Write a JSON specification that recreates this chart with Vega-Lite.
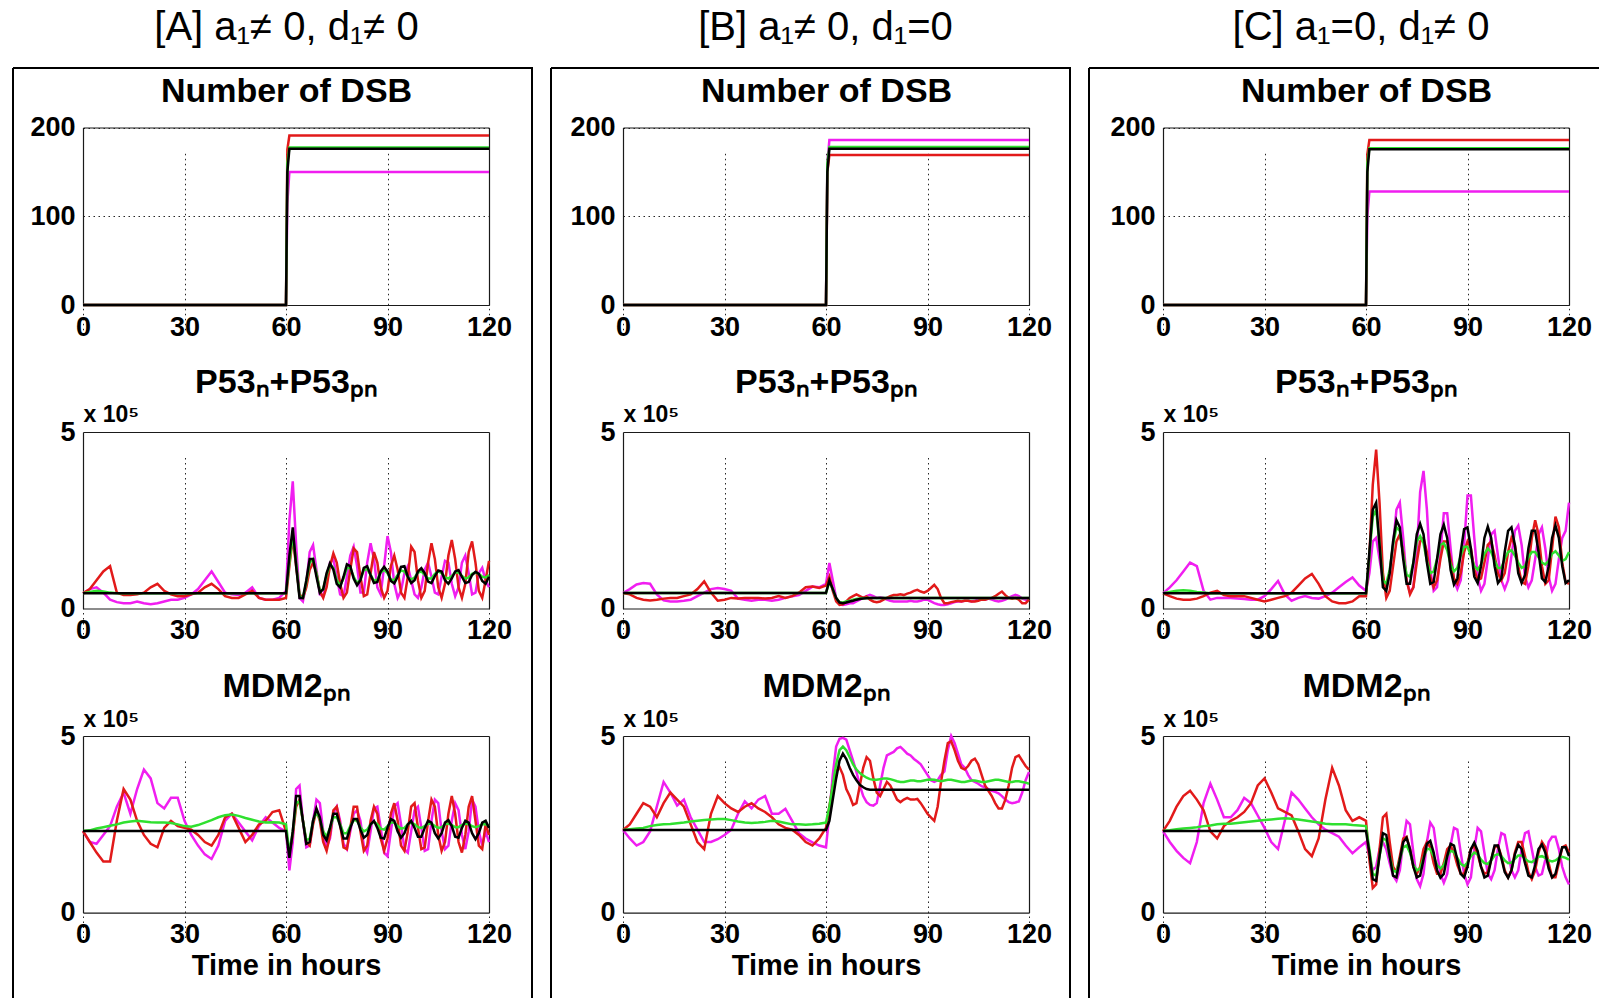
{
  "$schema": "https://vega.github.io/schema/vega-lite/v6.json",
  "background": "white",
  "padding": {"left": 12, "top": 7, "right": 0, "bottom": 0},
  "spacing": 17,
  "config": {
    "font": "Liberation Sans",
    "view": {"stroke": null},
    "axis": {
      "domainColor": "#1a1a1a", "domainWidth": 1.2,
      "labelFont": "Liberation Sans", "labelFontWeight": "bold", "labelFontSize": 27, "labelColor": "#000",
      "labelFlush": false, "ticks": false,
      "gridColor": "#000", "gridDash": [1.5, 3.5], "gridWidth": 1, "gridOpacity": 0.85,
      "titleFont": "Liberation Sans", "titleFontWeight": "bold", "titleColor": "#000"
    },
    "title": {"font": "Liberation Sans", "fontSize": 40, "fontWeight": "normal", "color": "#000", "offset": 20, "baseline": "alphabetic"},
    "line": {"strokeWidth": 2.5}
  },
  "datasets": {
    "A1": [
      {"t":0,"m":0,"r":0,"g":0,"k":0},{"t":60,"m":0,"r":0,"g":0,"k":0},
      {"t":60.4,"m":115,"r":175,"g":160,"k":150},{"t":61,"m":150,"r":191,"g":177.5,"k":176},
      {"t":120,"m":150,"r":191,"g":177.5,"k":176}
    ],
    "B1": [
      {"t":0,"m":0,"r":0,"g":0,"k":0},{"t":60,"m":0,"r":0,"g":0,"k":0},
      {"t":60.4,"m":160,"r":150,"g":160,"k":150},{"t":61,"m":186,"r":169,"g":178,"k":176},
      {"t":120,"m":186,"r":169,"g":178,"k":176}
    ],
    "C1": [
      {"t":0,"m":0,"r":0,"g":0,"k":0},{"t":60,"m":0,"r":0,"g":0,"k":0},
      {"t":60.4,"m":100,"r":170,"g":160,"k":150},{"t":61,"m":128,"r":186,"g":176.5,"k":175.5},
      {"t":120,"m":128,"r":186,"g":176.5,"k":175.5}
    ],
    "A2": [
      {"t":0,"m":0.43,"r":0.43,"g":0.43,"k":0.43},{"t":2,"m":0.55,"r":0.55,"g":0.47,"k":0.43},
      {"t":4,"m":0.6,"r":0.8,"g":0.5,"k":0.43},{"t":6,"m":0.45,"r":1.05,"g":0.48,"k":0.43},
      {"t":8,"m":0.25,"r":1.2,"g":0.45,"k":0.43},{"t":10,"m":0.18,"r":0.45,"g":0.43,"k":0.43},
      {"t":12,"m":0.15,"r":0.38,"g":0.43,"k":0.43},{"t":14,"m":0.15,"r":0.38,"g":0.43,"k":0.43},
      {"t":16,"m":0.2,"r":0.4,"g":0.43,"k":0.43},{"t":18,"m":0.15,"r":0.45,"g":0.43,"k":0.43},
      {"t":20,"m":0.12,"r":0.6,"g":0.43,"k":0.43},{"t":22,"m":0.15,"r":0.7,"g":0.43,"k":0.43},
      {"t":24,"m":0.2,"r":0.5,"g":0.43,"k":0.43},{"t":26,"m":0.25,"r":0.4,"g":0.43,"k":0.43},
      {"t":28,"m":0.25,"r":0.35,"g":0.43,"k":0.43},{"t":30,"m":0.3,"r":0.35,"g":0.43,"k":0.43},
      {"t":32,"m":0.4,"r":0.4,"g":0.43,"k":0.43},{"t":34,"m":0.55,"r":0.45,"g":0.43,"k":0.43},
      {"t":36,"m":0.8,"r":0.6,"g":0.43,"k":0.43},{"t":38,"m":1.05,"r":0.7,"g":0.43,"k":0.43},
      {"t":40,"m":0.75,"r":0.55,"g":0.43,"k":0.43},{"t":42,"m":0.45,"r":0.35,"g":0.43,"k":0.43},
      {"t":44,"m":0.4,"r":0.3,"g":0.43,"k":0.43},{"t":46,"m":0.38,"r":0.3,"g":0.43,"k":0.43},
      {"t":48,"m":0.45,"r":0.4,"g":0.43,"k":0.43},{"t":50,"m":0.6,"r":0.5,"g":0.43,"k":0.43},
      {"t":52,"m":0.3,"r":0.3,"g":0.43,"k":0.43},{"t":54,"m":0.25,"r":0.25,"g":0.43,"k":0.43},
      {"t":56,"m":0.25,"r":0.25,"g":0.43,"k":0.43},{"t":58,"m":0.3,"r":0.25,"g":0.43,"k":0.43},
      {"t":60,"m":0.5,"r":0.3,"g":0.43,"k":0.43},{"t":61,"m":2.5,"r":1.2,"g":1.3,"k":1.5},
      {"t":62,"m":3.6,"r":2.0,"g":2.1,"k":2.3},{"t":63,"m":1.8,"r":1.2,"g":1.3,"k":1.2},
      {"t":64,"m":0.3,"r":0.4,"g":0.35,"k":0.3},{"t":65,"m":0.2,"r":0.3,"g":0.3,"k":0.3},
      {"t":66,"m":0.7,"r":0.6,"g":0.75,"k":0.8},{"t":67,"m":1.6,"r":1.1,"g":1.3,"k":1.4},
      {"t":68,"m":1.8,"r":1.3,"g":1.4,"k":1.4},{"t":69,"m":1.1,"r":1.0,"g":1.0,"k":0.9},
      {"t":70,"m":0.4,"r":0.5,"g":0.5,"k":0.45},{"t":71,"m":0.35,"r":0.3,"g":0.55,"k":0.55},
      {"t":72,"m":0.8,"r":0.6,"g":0.95,"k":1.0},{"t":73,"m":1.3,"r":1.2,"g":1.25,"k":1.28},
      {"t":74,"m":1.4,"r":1.56,"g":1.15,"k":1.1},{"t":75,"m":0.9,"r":1.3,"g":0.8,"k":0.7},
      {"t":76,"m":0.4,"r":0.7,"g":0.65,"k":0.6},{"t":77,"m":0.35,"r":0.3,"g":0.85,"k":0.9},
      {"t":78,"m":0.9,"r":0.45,"g":1.15,"k":1.25},{"t":79,"m":1.5,"r":1.1,"g":1.15,"k":1.2},
      {"t":80,"m":1.75,"r":1.7,"g":0.9,"k":0.85},{"t":81,"m":1.2,"r":1.6,"g":0.72,"k":0.66},
      {"t":82,"m":0.45,"r":0.9,"g":0.82,"k":0.8},{"t":83,"m":0.45,"r":0.35,"g":1.08,"k":1.15},
      {"t":84,"m":1.3,"r":0.4,"g":1.12,"k":1.2},{"t":85,"m":1.85,"r":1.0,"g":0.95,"k":0.95},
      {"t":86,"m":1.4,"r":1.6,"g":0.78,"k":0.72},{"t":87,"m":0.6,"r":1.3,"g":0.82,"k":0.75},
      {"t":88,"m":0.4,"r":0.6,"g":1.02,"k":1.05},{"t":89,"m":1.2,"r":0.3,"g":1.1,"k":1.18},
      {"t":90,"m":2.05,"r":0.5,"g":1.0,"k":1.05},{"t":91,"m":1.6,"r":1.2,"g":0.82,"k":0.78},
      {"t":92,"m":0.7,"r":1.5,"g":0.8,"k":0.71},{"t":93,"m":0.3,"r":1.1,"g":0.95,"k":0.9},
      {"t":94,"m":0.5,"r":0.45,"g":1.08,"k":1.18},{"t":95,"m":1.0,"r":0.3,"g":1.05,"k":1.2},
      {"t":96,"m":1.2,"r":0.9,"g":0.9,"k":0.9},{"t":97,"m":0.8,"r":1.75,"g":0.82,"k":0.72},
      {"t":98,"m":0.4,"r":1.6,"g":0.88,"k":0.8},{"t":99,"m":0.3,"r":0.8,"g":1.02,"k":1.05},
      {"t":100,"m":0.6,"r":0.3,"g":1.05,"k":1.14},{"t":101,"m":1.1,"r":0.5,"g":0.95,"k":1.0},
      {"t":102,"m":1.3,"r":1.3,"g":0.85,"k":0.76},{"t":103,"m":0.9,"r":1.85,"g":0.85,"k":0.72},
      {"t":104,"m":0.45,"r":1.4,"g":0.98,"k":0.92},{"t":105,"m":0.4,"r":0.6,"g":1.05,"k":1.08},
      {"t":106,"m":0.9,"r":0.3,"g":1.0,"k":1.05},{"t":107,"m":1.35,"r":0.7,"g":0.88,"k":0.8},
      {"t":108,"m":1.3,"r":1.5,"g":0.85,"k":0.7},{"t":109,"m":0.7,"r":1.94,"g":0.92,"k":0.85},
      {"t":110,"m":0.35,"r":1.4,"g":1.02,"k":1.05},{"t":111,"m":0.6,"r":0.6,"g":1.02,"k":1.09},
      {"t":112,"m":1.3,"r":0.3,"g":0.92,"k":0.9},{"t":113,"m":1.5,"r":0.7,"g":0.85,"k":0.72},
      {"t":114,"m":1.0,"r":1.6,"g":0.88,"k":0.75},{"t":115,"m":0.4,"r":1.9,"g":0.98,"k":0.95},
      {"t":116,"m":0.45,"r":1.3,"g":1.02,"k":1.04},{"t":117,"m":1.0,"r":0.5,"g":0.98,"k":0.98},
      {"t":118,"m":1.15,"r":0.3,"g":0.9,"k":0.78},{"t":119,"m":0.8,"r":0.8,"g":0.88,"k":0.7},
      {"t":120,"m":0.6,"r":1.35,"g":0.95,"k":0.9}
    ],
    "A3": [
      {"t":0,"m":2.31,"r":2.31,"g":2.31,"k":2.31},{"t":2,"m":2.0,"r":2.0,"g":2.33,"k":2.31},
      {"t":4,"m":1.95,"r":1.7,"g":2.38,"k":2.31},{"t":6,"m":2.2,"r":1.45,"g":2.42,"k":2.31},
      {"t":8,"m":2.45,"r":1.45,"g":2.46,"k":2.31},{"t":10,"m":3.0,"r":2.6,"g":2.5,"k":2.31},
      {"t":12,"m":3.4,"r":3.5,"g":2.55,"k":2.31},{"t":14,"m":2.8,"r":3.2,"g":2.58,"k":2.31},
      {"t":16,"m":3.5,"r":2.6,"g":2.6,"k":2.31},{"t":18,"m":4.05,"r":2.2,"g":2.58,"k":2.31},
      {"t":20,"m":3.8,"r":1.95,"g":2.56,"k":2.31},{"t":22,"m":3.1,"r":1.85,"g":2.55,"k":2.31},
      {"t":24,"m":2.95,"r":2.4,"g":2.55,"k":2.31},{"t":26,"m":3.25,"r":2.6,"g":2.54,"k":2.31},
      {"t":28,"m":3.25,"r":2.45,"g":2.5,"k":2.31},{"t":30,"m":2.6,"r":2.4,"g":2.45,"k":2.31},
      {"t":32,"m":2.2,"r":2.35,"g":2.43,"k":2.31},{"t":34,"m":1.9,"r":2.2,"g":2.48,"k":2.31},
      {"t":36,"m":1.65,"r":2.0,"g":2.55,"k":2.31},{"t":38,"m":1.52,"r":1.9,"g":2.62,"k":2.31},
      {"t":40,"m":1.9,"r":2.2,"g":2.7,"k":2.31},{"t":42,"m":2.6,"r":2.7,"g":2.76,"k":2.31},
      {"t":44,"m":2.8,"r":2.8,"g":2.78,"k":2.31},{"t":46,"m":2.55,"r":2.4,"g":2.74,"k":2.31},
      {"t":48,"m":2.3,"r":2.0,"g":2.68,"k":2.31},{"t":50,"m":2.05,"r":2.2,"g":2.63,"k":2.31},
      {"t":52,"m":2.45,"r":2.5,"g":2.58,"k":2.31},{"t":54,"m":2.7,"r":2.6,"g":2.55,"k":2.31},
      {"t":56,"m":2.55,"r":2.85,"g":2.56,"k":2.31},{"t":58,"m":2.4,"r":2.9,"g":2.55,"k":2.31},
      {"t":60,"m":2.3,"r":2.3,"g":2.5,"k":2.31},{"t":61,"m":1.2,"r":1.7,"g":1.7,"k":1.55},
      {"t":62,"m":2.0,"r":2.2,"g":2.3,"k":2.3},{"t":63,"m":3.5,"r":3.0,"g":3.1,"k":3.3},
      {"t":64,"m":3.6,"r":3.2,"g":3.15,"k":3.3},{"t":65,"m":2.6,"r":2.6,"g":2.6,"k":2.6},
      {"t":66,"m":1.85,"r":2.0,"g":2.05,"k":1.95},{"t":67,"m":1.9,"r":1.9,"g":2.1,"k":2.0},
      {"t":68,"m":2.6,"r":2.5,"g":2.6,"k":2.6},{"t":69,"m":3.2,"r":2.9,"g":2.85,"k":2.95},
      {"t":70,"m":3.1,"r":2.6,"g":2.65,"k":2.7},{"t":71,"m":2.3,"r":2.0,"g":2.3,"k":2.2},
      {"t":72,"m":1.85,"r":1.75,"g":2.15,"k":2.05},{"t":73,"m":2.1,"r":2.2,"g":2.4,"k":2.4},
      {"t":74,"m":2.8,"r":2.9,"g":2.7,"k":2.8},{"t":75,"m":3.0,"r":3.0,"g":2.7,"k":2.8},
      {"t":76,"m":2.6,"r":2.5,"g":2.5,"k":2.45},{"t":77,"m":1.95,"r":1.85,"g":2.25,"k":2.1},
      {"t":78,"m":1.8,"r":1.8,"g":2.25,"k":2.1},{"t":79,"m":2.3,"r":2.4,"g":2.45,"k":2.4},
      {"t":80,"m":2.8,"r":3.0,"g":2.62,"k":2.65},{"t":81,"m":2.9,"r":3.0,"g":2.6,"k":2.65},
      {"t":82,"m":2.6,"r":2.3,"g":2.42,"k":2.35},{"t":83,"m":1.9,"r":1.75,"g":2.3,"k":2.12},
      {"t":84,"m":1.7,"r":1.9,"g":2.35,"k":2.2},{"t":85,"m":2.3,"r":2.6,"g":2.5,"k":2.5},
      {"t":86,"m":2.95,"r":3.0,"g":2.58,"k":2.6},{"t":87,"m":3.0,"r":2.8,"g":2.5,"k":2.4},
      {"t":88,"m":2.4,"r":2.1,"g":2.38,"k":2.12},{"t":89,"m":1.7,"r":1.75,"g":2.35,"k":2.1},
      {"t":90,"m":1.6,"r":2.1,"g":2.45,"k":2.4},{"t":91,"m":2.3,"r":2.8,"g":2.55,"k":2.65},
      {"t":92,"m":3.0,"r":3.1,"g":2.55,"k":2.6},{"t":93,"m":3.1,"r":2.6,"g":2.45,"k":2.3},
      {"t":94,"m":2.5,"r":1.9,"g":2.38,"k":2.12},{"t":95,"m":1.8,"r":1.75,"g":2.4,"k":2.25},
      {"t":96,"m":1.7,"r":2.3,"g":2.5,"k":2.5},{"t":97,"m":2.3,"r":3.0,"g":2.55,"k":2.6},
      {"t":98,"m":2.9,"r":3.1,"g":2.5,"k":2.4},{"t":99,"m":3.0,"r":2.4,"g":2.42,"k":2.15},
      {"t":100,"m":2.4,"r":1.8,"g":2.4,"k":2.15},{"t":101,"m":1.75,"r":1.85,"g":2.45,"k":2.4},
      {"t":102,"m":1.8,"r":2.6,"g":2.52,"k":2.6},{"t":103,"m":2.6,"r":3.2,"g":2.52,"k":2.55},
      {"t":104,"m":3.2,"r":3.0,"g":2.45,"k":2.25},{"t":105,"m":3.1,"r":2.2,"g":2.4,"k":2.1},
      {"t":106,"m":2.3,"r":1.75,"g":2.42,"k":2.25},{"t":107,"m":1.8,"r":2.0,"g":2.5,"k":2.55},
      {"t":108,"m":1.9,"r":2.8,"g":2.52,"k":2.62},{"t":109,"m":2.6,"r":3.3,"g":2.48,"k":2.45},
      {"t":110,"m":3.1,"r":2.8,"g":2.42,"k":2.15},{"t":111,"m":2.9,"r":2.0,"g":2.42,"k":2.12},
      {"t":112,"m":2.2,"r":1.7,"g":2.48,"k":2.4},{"t":113,"m":1.8,"r":2.2,"g":2.52,"k":2.6},
      {"t":114,"m":2.3,"r":3.0,"g":2.5,"k":2.55},{"t":115,"m":3.2,"r":3.3,"g":2.45,"k":2.25},
      {"t":116,"m":3.0,"r":2.6,"g":2.42,"k":2.08},{"t":117,"m":2.3,"r":1.9,"g":2.45,"k":2.25},
      {"t":118,"m":1.9,"r":1.8,"g":2.5,"k":2.55},{"t":119,"m":2.3,"r":2.5,"g":2.5,"k":2.6},
      {"t":120,"m":2.0,"r":2.2,"g":2.45,"k":2.4}
    ],
    "B2": [
      {"t":0,"m":0.44,"r":0.44,"g":0.44,"k":0.44},{"t":2,"m":0.55,"r":0.4,"g":0.44,"k":0.44},
      {"t":4,"m":0.68,"r":0.3,"g":0.44,"k":0.44},{"t":6,"m":0.72,"r":0.25,"g":0.44,"k":0.44},
      {"t":8,"m":0.7,"r":0.23,"g":0.44,"k":0.44},{"t":10,"m":0.4,"r":0.25,"g":0.44,"k":0.44},
      {"t":12,"m":0.23,"r":0.28,"g":0.44,"k":0.44},{"t":14,"m":0.2,"r":0.3,"g":0.44,"k":0.44},
      {"t":16,"m":0.2,"r":0.3,"g":0.44,"k":0.44},{"t":18,"m":0.22,"r":0.35,"g":0.44,"k":0.44},
      {"t":20,"m":0.25,"r":0.4,"g":0.44,"k":0.44},{"t":22,"m":0.35,"r":0.55,"g":0.44,"k":0.44},
      {"t":24,"m":0.45,"r":0.77,"g":0.44,"k":0.44},{"t":26,"m":0.55,"r":0.45,"g":0.44,"k":0.44},
      {"t":28,"m":0.58,"r":0.22,"g":0.44,"k":0.44},{"t":30,"m":0.55,"r":0.25,"g":0.44,"k":0.44},
      {"t":32,"m":0.5,"r":0.3,"g":0.44,"k":0.44},{"t":34,"m":0.28,"r":0.28,"g":0.44,"k":0.44},
      {"t":36,"m":0.25,"r":0.3,"g":0.44,"k":0.44},{"t":38,"m":0.22,"r":0.3,"g":0.44,"k":0.44},
      {"t":40,"m":0.25,"r":0.3,"g":0.44,"k":0.44},{"t":42,"m":0.25,"r":0.28,"g":0.44,"k":0.44},
      {"t":44,"m":0.22,"r":0.3,"g":0.44,"k":0.44},{"t":46,"m":0.25,"r":0.35,"g":0.44,"k":0.44},
      {"t":48,"m":0.3,"r":0.3,"g":0.44,"k":0.44},{"t":50,"m":0.35,"r":0.35,"g":0.44,"k":0.44},
      {"t":52,"m":0.38,"r":0.45,"g":0.44,"k":0.44},{"t":54,"m":0.5,"r":0.6,"g":0.44,"k":0.44},
      {"t":56,"m":0.62,"r":0.62,"g":0.44,"k":0.44},{"t":58,"m":0.6,"r":0.58,"g":0.44,"k":0.44},
      {"t":60,"m":0.7,"r":0.65,"g":0.44,"k":0.44},{"t":61,"m":1.29,"r":0.9,"g":0.75,"k":0.8},
      {"t":62,"m":0.8,"r":0.5,"g":0.55,"k":0.55},{"t":63,"m":0.3,"r":0.2,"g":0.3,"k":0.3},
      {"t":64,"m":0.12,"r":0.1,"g":0.18,"k":0.17},{"t":65,"m":0.1,"r":0.12,"g":0.17,"k":0.15},
      {"t":66,"m":0.12,"r":0.2,"g":0.2,"k":0.17},{"t":67,"m":0.15,"r":0.3,"g":0.22,"k":0.2},
      {"t":68,"m":0.15,"r":0.35,"g":0.25,"k":0.22},{"t":69,"m":0.2,"r":0.4,"g":0.27,"k":0.25},
      {"t":70,"m":0.25,"r":0.35,"g":0.28,"k":0.27},{"t":71,"m":0.3,"r":0.3,"g":0.29,"k":0.28},
      {"t":72,"m":0.35,"r":0.34,"g":0.3,"k":0.29},{"t":73,"m":0.39,"r":0.25,"g":0.3,"k":0.3},
      {"t":74,"m":0.35,"r":0.2,"g":0.3,"k":0.3},{"t":75,"m":0.3,"r":0.18,"g":0.3,"k":0.3},
      {"t":76,"m":0.32,"r":0.2,"g":0.3,"k":0.3},{"t":77,"m":0.3,"r":0.25,"g":0.3,"k":0.3},
      {"t":78,"m":0.25,"r":0.3,"g":0.3,"k":0.3},{"t":79,"m":0.22,"r":0.35,"g":0.3,"k":0.3},
      {"t":80,"m":0.2,"r":0.38,"g":0.3,"k":0.3},{"t":81,"m":0.2,"r":0.38,"g":0.3,"k":0.3},
      {"t":82,"m":0.2,"r":0.4,"g":0.3,"k":0.3},{"t":83,"m":0.2,"r":0.38,"g":0.3,"k":0.3},
      {"t":84,"m":0.2,"r":0.42,"g":0.3,"k":0.3},{"t":85,"m":0.22,"r":0.45,"g":0.3,"k":0.3},
      {"t":86,"m":0.2,"r":0.5,"g":0.3,"k":0.3},{"t":87,"m":0.2,"r":0.53,"g":0.3,"k":0.3},
      {"t":88,"m":0.22,"r":0.48,"g":0.3,"k":0.3},{"t":89,"m":0.25,"r":0.45,"g":0.3,"k":0.3},
      {"t":90,"m":0.25,"r":0.5,"g":0.3,"k":0.3},{"t":91,"m":0.2,"r":0.58,"g":0.3,"k":0.3},
      {"t":92,"m":0.15,"r":0.67,"g":0.3,"k":0.3},{"t":93,"m":0.12,"r":0.55,"g":0.3,"k":0.3},
      {"t":94,"m":0.1,"r":0.3,"g":0.3,"k":0.3},{"t":95,"m":0.1,"r":0.15,"g":0.3,"k":0.3},
      {"t":96,"m":0.12,"r":0.15,"g":0.3,"k":0.3},{"t":97,"m":0.15,"r":0.18,"g":0.3,"k":0.3},
      {"t":98,"m":0.18,"r":0.2,"g":0.3,"k":0.3},{"t":99,"m":0.2,"r":0.22,"g":0.3,"k":0.3},
      {"t":100,"m":0.2,"r":0.2,"g":0.3,"k":0.3},{"t":101,"m":0.22,"r":0.22,"g":0.3,"k":0.3},
      {"t":102,"m":0.22,"r":0.22,"g":0.3,"k":0.3},{"t":103,"m":0.2,"r":0.2,"g":0.3,"k":0.3},
      {"t":104,"m":0.22,"r":0.2,"g":0.3,"k":0.3},{"t":105,"m":0.25,"r":0.22,"g":0.3,"k":0.3},
      {"t":106,"m":0.25,"r":0.25,"g":0.3,"k":0.3},{"t":107,"m":0.25,"r":0.25,"g":0.3,"k":0.3},
      {"t":108,"m":0.28,"r":0.28,"g":0.3,"k":0.3},{"t":109,"m":0.25,"r":0.3,"g":0.3,"k":0.3},
      {"t":110,"m":0.22,"r":0.35,"g":0.3,"k":0.3},{"t":111,"m":0.2,"r":0.42,"g":0.3,"k":0.3},
      {"t":112,"m":0.22,"r":0.48,"g":0.3,"k":0.3},{"t":113,"m":0.25,"r":0.38,"g":0.3,"k":0.3},
      {"t":114,"m":0.3,"r":0.3,"g":0.3,"k":0.3},{"t":115,"m":0.35,"r":0.28,"g":0.3,"k":0.3},
      {"t":116,"m":0.39,"r":0.3,"g":0.3,"k":0.3},{"t":117,"m":0.35,"r":0.25,"g":0.3,"k":0.3},
      {"t":118,"m":0.28,"r":0.15,"g":0.3,"k":0.3},{"t":119,"m":0.25,"r":0.15,"g":0.3,"k":0.3},
      {"t":120,"m":0.25,"r":0.25,"g":0.3,"k":0.3}
    ],
    "B3": [
      {"t":0,"m":2.34,"r":2.34,"g":2.34,"k":2.34},{"t":2,"m":2.1,"r":2.5,"g":2.36,"k":2.34},
      {"t":4,"m":1.9,"r":2.8,"g":2.38,"k":2.34},{"t":6,"m":2.0,"r":3.1,"g":2.4,"k":2.34},
      {"t":8,"m":2.3,"r":3.0,"g":2.45,"k":2.34},{"t":10,"m":3.0,"r":2.7,"g":2.48,"k":2.34},
      {"t":12,"m":3.7,"r":3.1,"g":2.5,"k":2.34},{"t":14,"m":3.4,"r":3.4,"g":2.51,"k":2.34},
      {"t":16,"m":3.03,"r":3.2,"g":2.53,"k":2.34},{"t":18,"m":3.2,"r":3.0,"g":2.55,"k":2.34},
      {"t":20,"m":2.7,"r":2.5,"g":2.58,"k":2.34},{"t":22,"m":2.35,"r":2.0,"g":2.6,"k":2.34},
      {"t":24,"m":2.0,"r":1.8,"g":2.62,"k":2.34},{"t":26,"m":2.0,"r":2.8,"g":2.64,"k":2.34},
      {"t":28,"m":2.08,"r":3.3,"g":2.65,"k":2.34},{"t":30,"m":2.2,"r":3.1,"g":2.65,"k":2.34},
      {"t":32,"m":2.35,"r":2.95,"g":2.62,"k":2.34},{"t":34,"m":2.8,"r":2.85,"g":2.58,"k":2.34},
      {"t":36,"m":3.15,"r":3.0,"g":2.55,"k":2.34},{"t":38,"m":2.95,"r":3.1,"g":2.54,"k":2.34},
      {"t":40,"m":3.2,"r":2.95,"g":2.55,"k":2.34},{"t":42,"m":3.3,"r":2.85,"g":2.57,"k":2.34},
      {"t":44,"m":2.8,"r":2.7,"g":2.6,"k":2.34},{"t":46,"m":2.8,"r":2.5,"g":2.58,"k":2.34},
      {"t":48,"m":2.94,"r":2.4,"g":2.54,"k":2.34},{"t":50,"m":2.6,"r":2.35,"g":2.5,"k":2.34},
      {"t":52,"m":2.25,"r":2.2,"g":2.5,"k":2.34},{"t":54,"m":2.1,"r":2.0,"g":2.49,"k":2.34},
      {"t":56,"m":1.99,"r":1.9,"g":2.5,"k":2.34},{"t":58,"m":1.9,"r":2.1,"g":2.52,"k":2.34},
      {"t":60,"m":1.85,"r":2.4,"g":2.55,"k":2.34},{"t":61,"m":2.8,"r":3.0,"g":3.0,"k":2.6},
      {"t":62,"m":3.9,"r":3.6,"g":3.6,"k":3.2},{"t":63,"m":4.7,"r":4.0,"g":4.2,"k":3.8},
      {"t":64,"m":4.92,"r":4.12,"g":4.6,"k":4.3},{"t":65,"m":4.95,"r":3.9,"g":4.7,"k":4.5},
      {"t":66,"m":4.9,"r":3.5,"g":4.6,"k":4.35},{"t":67,"m":4.6,"r":3.3,"g":4.4,"k":4.1},
      {"t":68,"m":4.3,"r":3.05,"g":4.2,"k":3.9},{"t":69,"m":3.98,"r":3.1,"g":4.05,"k":3.75},
      {"t":70,"m":3.6,"r":3.6,"g":3.95,"k":3.62},{"t":71,"m":3.3,"r":4.1,"g":3.88,"k":3.55},
      {"t":72,"m":3.13,"r":4.4,"g":3.82,"k":3.5},{"t":73,"m":3.05,"r":4.3,"g":3.78,"k":3.48},
      {"t":74,"m":3.03,"r":3.8,"g":3.76,"k":3.48},{"t":75,"m":3.1,"r":3.4,"g":3.76,"k":3.48},
      {"t":76,"m":3.6,"r":3.3,"g":3.78,"k":3.48},{"t":77,"m":4.1,"r":3.5,"g":3.8,"k":3.48},
      {"t":78,"m":4.45,"r":3.7,"g":3.8,"k":3.48},{"t":79,"m":4.5,"r":3.6,"g":3.78,"k":3.48},
      {"t":80,"m":4.55,"r":3.4,"g":3.75,"k":3.48},{"t":81,"m":4.65,"r":3.2,"g":3.72,"k":3.48},
      {"t":82,"m":4.69,"r":3.13,"g":3.7,"k":3.48},{"t":83,"m":4.6,"r":3.2,"g":3.7,"k":3.48},
      {"t":84,"m":4.5,"r":3.25,"g":3.72,"k":3.48},{"t":85,"m":4.45,"r":3.2,"g":3.74,"k":3.48},
      {"t":86,"m":4.35,"r":3.2,"g":3.74,"k":3.48},{"t":87,"m":4.28,"r":3.22,"g":3.72,"k":3.48},
      {"t":88,"m":4.2,"r":3.1,"g":3.72,"k":3.48},{"t":89,"m":4.05,"r":2.95,"g":3.74,"k":3.48},
      {"t":90,"m":3.9,"r":2.8,"g":3.76,"k":3.48},{"t":91,"m":3.75,"r":2.7,"g":3.77,"k":3.48},
      {"t":92,"m":3.7,"r":2.6,"g":3.76,"k":3.48},{"t":93,"m":3.75,"r":3.0,"g":3.74,"k":3.48},
      {"t":94,"m":3.9,"r":3.7,"g":3.72,"k":3.48},{"t":95,"m":4.0,"r":4.3,"g":3.74,"k":3.48},
      {"t":96,"m":4.6,"r":4.8,"g":3.76,"k":3.48},{"t":97,"m":5.0,"r":4.85,"g":3.76,"k":3.48},
      {"t":98,"m":4.8,"r":4.6,"g":3.74,"k":3.48},{"t":99,"m":4.5,"r":4.3,"g":3.72,"k":3.48},
      {"t":100,"m":4.2,"r":4.1,"g":3.7,"k":3.48},{"t":101,"m":4.1,"r":4.05,"g":3.7,"k":3.48},
      {"t":102,"m":3.9,"r":4.15,"g":3.72,"k":3.48},{"t":103,"m":3.75,"r":4.3,"g":3.74,"k":3.48},
      {"t":104,"m":3.7,"r":4.36,"g":3.74,"k":3.48},{"t":105,"m":3.65,"r":4.2,"g":3.72,"k":3.48},
      {"t":106,"m":3.58,"r":3.9,"g":3.7,"k":3.48},{"t":107,"m":3.55,"r":3.6,"g":3.7,"k":3.48},
      {"t":108,"m":3.5,"r":3.45,"g":3.72,"k":3.48},{"t":109,"m":3.45,"r":3.3,"g":3.74,"k":3.48},
      {"t":110,"m":3.42,"r":3.1,"g":3.76,"k":3.48},{"t":111,"m":3.38,"r":2.95,"g":3.76,"k":3.48},
      {"t":112,"m":3.3,"r":2.95,"g":3.74,"k":3.48},{"t":113,"m":3.2,"r":3.2,"g":3.72,"k":3.48},
      {"t":114,"m":3.13,"r":3.6,"g":3.7,"k":3.48},{"t":115,"m":3.1,"r":4.1,"g":3.7,"k":3.48},
      {"t":116,"m":3.12,"r":4.4,"g":3.72,"k":3.48},{"t":117,"m":3.15,"r":4.45,"g":3.72,"k":3.48},
      {"t":118,"m":3.4,"r":4.3,"g":3.7,"k":3.48},{"t":119,"m":3.75,"r":4.15,"g":3.68,"k":3.48},
      {"t":120,"m":3.98,"r":4.05,"g":3.65,"k":3.48}
    ],
    "C2": [
      {"t":0,"m":0.43,"r":0.43,"g":0.43,"k":0.43},{"t":2,"m":0.6,"r":0.35,"g":0.47,"k":0.43},
      {"t":4,"m":0.8,"r":0.28,"g":0.5,"k":0.43},{"t":6,"m":1.05,"r":0.25,"g":0.52,"k":0.43},
      {"t":8,"m":1.3,"r":0.25,"g":0.5,"k":0.43},{"t":10,"m":1.2,"r":0.28,"g":0.47,"k":0.43},
      {"t":12,"m":0.5,"r":0.35,"g":0.45,"k":0.43},{"t":14,"m":0.25,"r":0.45,"g":0.43,"k":0.43},
      {"t":16,"m":0.3,"r":0.5,"g":0.43,"k":0.43},{"t":18,"m":0.3,"r":0.38,"g":0.43,"k":0.43},
      {"t":20,"m":0.3,"r":0.35,"g":0.43,"k":0.43},{"t":22,"m":0.28,"r":0.35,"g":0.43,"k":0.43},
      {"t":24,"m":0.27,"r":0.35,"g":0.43,"k":0.43},{"t":26,"m":0.25,"r":0.3,"g":0.43,"k":0.43},
      {"t":28,"m":0.25,"r":0.25,"g":0.43,"k":0.43},{"t":30,"m":0.35,"r":0.2,"g":0.43,"k":0.43},
      {"t":32,"m":0.55,"r":0.25,"g":0.43,"k":0.43},{"t":34,"m":0.78,"r":0.3,"g":0.43,"k":0.43},
      {"t":36,"m":0.4,"r":0.35,"g":0.43,"k":0.43},{"t":38,"m":0.22,"r":0.45,"g":0.43,"k":0.43},
      {"t":40,"m":0.3,"r":0.65,"g":0.43,"k":0.43},{"t":42,"m":0.35,"r":0.85,"g":0.43,"k":0.43},
      {"t":44,"m":0.3,"r":0.98,"g":0.43,"k":0.43},{"t":46,"m":0.28,"r":0.7,"g":0.43,"k":0.43},
      {"t":48,"m":0.35,"r":0.35,"g":0.43,"k":0.43},{"t":50,"m":0.45,"r":0.2,"g":0.43,"k":0.43},
      {"t":52,"m":0.6,"r":0.15,"g":0.43,"k":0.43},{"t":54,"m":0.75,"r":0.15,"g":0.43,"k":0.43},
      {"t":56,"m":0.88,"r":0.2,"g":0.43,"k":0.43},{"t":58,"m":0.65,"r":0.35,"g":0.43,"k":0.43},
      {"t":60,"m":0.5,"r":0.35,"g":0.43,"k":0.43},{"t":61,"m":1.0,"r":1.5,"g":1.5,"k":1.6},
      {"t":62,"m":1.9,"r":3.5,"g":2.6,"k":2.8},{"t":63,"m":2.0,"r":4.5,"g":2.8,"k":3.0},
      {"t":64,"m":1.4,"r":3.0,"g":1.8,"k":1.8},{"t":65,"m":0.8,"r":1.0,"g":0.8,"k":0.6},
      {"t":66,"m":0.6,"r":0.3,"g":0.7,"k":0.5},{"t":67,"m":1.0,"r":0.5,"g":1.1,"k":1.0},
      {"t":68,"m":1.8,"r":1.2,"g":1.8,"k":1.9},{"t":69,"m":2.8,"r":1.9,"g":2.3,"k":2.5},
      {"t":70,"m":3.0,"r":2.1,"g":2.2,"k":2.3},{"t":71,"m":2.0,"r":1.6,"g":1.5,"k":1.4},
      {"t":72,"m":0.8,"r":0.8,"g":0.95,"k":0.7},{"t":73,"m":0.45,"r":0.4,"g":0.9,"k":0.7},
      {"t":74,"m":0.6,"r":0.6,"g":1.3,"k":1.3},{"t":75,"m":1.6,"r":1.3,"g":1.9,"k":2.1},
      {"t":76,"m":3.3,"r":1.9,"g":2.05,"k":2.4},{"t":77,"m":3.9,"r":2.0,"g":1.85,"k":2.1},
      {"t":78,"m":2.8,"r":1.6,"g":1.35,"k":1.3},{"t":79,"m":1.1,"r":0.9,"g":1.0,"k":0.7},
      {"t":80,"m":0.5,"r":0.6,"g":1.05,"k":0.75},{"t":81,"m":0.6,"r":0.8,"g":1.4,"k":1.4},
      {"t":82,"m":1.6,"r":1.4,"g":1.8,"k":2.1},{"t":83,"m":2.7,"r":1.9,"g":1.85,"k":2.37},
      {"t":84,"m":2.7,"r":1.9,"g":1.65,"k":2.0},{"t":85,"m":1.7,"r":1.4,"g":1.25,"k":1.1},
      {"t":86,"m":0.8,"r":0.85,"g":1.05,"k":0.68},{"t":87,"m":0.55,"r":0.7,"g":1.15,"k":0.85},
      {"t":88,"m":0.8,"r":1.0,"g":1.5,"k":1.6},{"t":89,"m":1.8,"r":1.6,"g":1.75,"k":2.25},
      {"t":90,"m":3.2,"r":1.9,"g":1.75,"k":2.3},{"t":91,"m":3.2,"r":1.7,"g":1.5,"k":1.7},
      {"t":92,"m":2.0,"r":1.1,"g":1.2,"k":0.9},{"t":93,"m":0.9,"r":0.8,"g":1.1,"k":0.72},
      {"t":94,"m":0.5,"r":0.85,"g":1.25,"k":1.2},{"t":95,"m":0.7,"r":1.3,"g":1.55,"k":2.0},
      {"t":96,"m":1.4,"r":1.8,"g":1.7,"k":2.32},{"t":97,"m":2.1,"r":1.9,"g":1.6,"k":2.0},
      {"t":98,"m":2.2,"r":1.5,"g":1.35,"k":1.2},{"t":99,"m":1.5,"r":1.0,"g":1.15,"k":0.72},
      {"t":100,"m":0.8,"r":0.8,"g":1.15,"k":0.85},{"t":101,"m":0.55,"r":1.0,"g":1.4,"k":1.6},
      {"t":102,"m":0.8,"r":1.6,"g":1.6,"k":2.2},{"t":103,"m":1.5,"r":2.0,"g":1.65,"k":2.3},
      {"t":104,"m":2.2,"r":1.8,"g":1.5,"k":1.8},{"t":105,"m":2.35,"r":1.2,"g":1.3,"k":1.0},
      {"t":106,"m":1.8,"r":0.75,"g":1.15,"k":0.72},{"t":107,"m":0.9,"r":0.7,"g":1.2,"k":0.95},
      {"t":108,"m":0.6,"r":1.2,"g":1.45,"k":1.7},{"t":109,"m":0.8,"r":2.0,"g":1.6,"k":2.2},
      {"t":110,"m":1.4,"r":2.5,"g":1.6,"k":2.2},{"t":111,"m":2.1,"r":2.1,"g":1.45,"k":1.6},
      {"t":112,"m":2.3,"r":1.2,"g":1.3,"k":0.85},{"t":113,"m":1.7,"r":0.7,"g":1.25,"k":0.75},
      {"t":114,"m":0.9,"r":0.8,"g":1.35,"k":1.2},{"t":115,"m":0.5,"r":1.7,"g":1.55,"k":2.0},
      {"t":116,"m":0.7,"r":2.6,"g":1.62,"k":2.35},{"t":117,"m":1.4,"r":2.3,"g":1.5,"k":2.0},
      {"t":118,"m":2.0,"r":1.3,"g":1.35,"k":1.2},{"t":119,"m":2.2,"r":0.75,"g":1.4,"k":0.72},
      {"t":120,"m":3.0,"r":0.7,"g":1.6,"k":0.8}
    ],
    "C3": [
      {"t":0,"m":2.31,"r":2.31,"g":2.31,"k":2.31},{"t":2,"m":2.0,"r":2.6,"g":2.33,"k":2.31},
      {"t":4,"m":1.75,"r":3.0,"g":2.36,"k":2.31},{"t":6,"m":1.55,"r":3.3,"g":2.38,"k":2.31},
      {"t":8,"m":1.4,"r":3.45,"g":2.4,"k":2.31},{"t":10,"m":2.0,"r":3.2,"g":2.42,"k":2.31},
      {"t":12,"m":3.1,"r":2.9,"g":2.45,"k":2.31},{"t":14,"m":3.65,"r":2.3,"g":2.47,"k":2.31},
      {"t":16,"m":3.2,"r":2.1,"g":2.5,"k":2.31},{"t":18,"m":2.7,"r":2.45,"g":2.52,"k":2.31},
      {"t":20,"m":2.7,"r":2.6,"g":2.52,"k":2.31},{"t":22,"m":2.9,"r":2.7,"g":2.54,"k":2.31},
      {"t":24,"m":3.25,"r":2.85,"g":2.56,"k":2.31},{"t":26,"m":3.1,"r":3.1,"g":2.58,"k":2.31},
      {"t":28,"m":2.75,"r":3.6,"g":2.6,"k":2.31},{"t":30,"m":2.4,"r":3.8,"g":2.62,"k":2.31},
      {"t":32,"m":2.0,"r":3.4,"g":2.64,"k":2.31},{"t":34,"m":1.8,"r":2.95,"g":2.66,"k":2.31},
      {"t":36,"m":2.6,"r":2.85,"g":2.67,"k":2.31},{"t":38,"m":3.4,"r":2.75,"g":2.66,"k":2.31},
      {"t":40,"m":3.2,"r":2.3,"g":2.64,"k":2.31},{"t":42,"m":2.95,"r":1.8,"g":2.61,"k":2.31},
      {"t":44,"m":2.7,"r":1.6,"g":2.58,"k":2.31},{"t":46,"m":2.5,"r":2.1,"g":2.55,"k":2.31},
      {"t":48,"m":2.35,"r":3.2,"g":2.52,"k":2.31},{"t":50,"m":2.25,"r":4.1,"g":2.5,"k":2.31},
      {"t":52,"m":2.15,"r":3.6,"g":2.5,"k":2.31},{"t":54,"m":1.9,"r":2.9,"g":2.5,"k":2.31},
      {"t":56,"m":1.68,"r":2.6,"g":2.48,"k":2.31},{"t":58,"m":1.85,"r":2.7,"g":2.47,"k":2.31},
      {"t":60,"m":2.0,"r":2.6,"g":2.45,"k":2.31},{"t":61,"m":1.6,"r":1.5,"g":1.8,"k":1.7},
      {"t":62,"m":1.2,"r":0.7,"g":1.1,"k":0.95},{"t":63,"m":1.3,"r":0.8,"g":1.05,"k":0.9},
      {"t":64,"m":1.8,"r":1.8,"g":1.6,"k":1.6},{"t":65,"m":2.0,"r":2.7,"g":2.1,"k":2.25},
      {"t":66,"m":1.8,"r":2.8,"g":2.05,"k":2.2},{"t":67,"m":1.4,"r":2.0,"g":1.6,"k":1.6},
      {"t":68,"m":1.05,"r":1.3,"g":1.2,"k":1.05},{"t":69,"m":0.9,"r":1.15,"g":1.15,"k":1.0},
      {"t":70,"m":1.2,"r":1.6,"g":1.5,"k":1.5},{"t":71,"m":2.0,"r":2.1,"g":1.85,"k":2.0},
      {"t":72,"m":2.6,"r":2.15,"g":1.9,"k":2.12},{"t":73,"m":2.5,"r":1.8,"g":1.7,"k":1.8},
      {"t":74,"m":1.7,"r":1.3,"g":1.35,"k":1.3},{"t":75,"m":0.95,"r":1.1,"g":1.2,"k":1.0},
      {"t":76,"m":0.75,"r":1.3,"g":1.25,"k":1.05},{"t":77,"m":1.1,"r":1.8,"g":1.55,"k":1.5},
      {"t":78,"m":2.0,"r":2.0,"g":1.8,"k":1.95},{"t":79,"m":2.55,"r":1.85,"g":1.8,"k":2.03},
      {"t":80,"m":2.4,"r":1.4,"g":1.6,"k":1.7},{"t":81,"m":1.7,"r":1.1,"g":1.35,"k":1.2},
      {"t":82,"m":1.1,"r":1.1,"g":1.25,"k":0.99},{"t":83,"m":0.85,"r":1.4,"g":1.35,"k":1.1},
      {"t":84,"m":1.1,"r":1.8,"g":1.6,"k":1.6},{"t":85,"m":1.9,"r":1.9,"g":1.75,"k":1.95},
      {"t":86,"m":2.4,"r":1.7,"g":1.72,"k":1.9},{"t":87,"m":2.35,"r":1.35,"g":1.55,"k":1.5},
      {"t":88,"m":1.7,"r":1.1,"g":1.38,"k":1.1},{"t":89,"m":1.1,"r":1.1,"g":1.32,"k":1.0},
      {"t":90,"m":0.8,"r":1.4,"g":1.42,"k":1.3},{"t":91,"m":1.0,"r":1.8,"g":1.6,"k":1.8},
      {"t":92,"m":1.8,"r":1.9,"g":1.7,"k":1.98},{"t":93,"m":2.4,"r":1.65,"g":1.65,"k":1.75},
      {"t":94,"m":2.3,"r":1.3,"g":1.5,"k":1.3},{"t":95,"m":1.7,"r":1.1,"g":1.4,"k":1.0},
      {"t":96,"m":1.1,"r":1.15,"g":1.38,"k":1.05},{"t":97,"m":0.95,"r":1.5,"g":1.48,"k":1.5},
      {"t":98,"m":1.2,"r":1.85,"g":1.62,"k":1.9},{"t":99,"m":1.8,"r":1.9,"g":1.66,"k":1.9},
      {"t":100,"m":2.25,"r":1.6,"g":1.6,"k":1.55},{"t":101,"m":2.2,"r":1.2,"g":1.48,"k":1.15},
      {"t":102,"m":1.7,"r":1.0,"g":1.4,"k":0.99},{"t":103,"m":1.2,"r":1.2,"g":1.42,"k":1.2},
      {"t":104,"m":1.0,"r":1.7,"g":1.52,"k":1.65},{"t":105,"m":1.2,"r":2.0,"g":1.62,"k":1.92},
      {"t":106,"m":1.8,"r":2.0,"g":1.62,"k":1.8},{"t":107,"m":2.25,"r":1.6,"g":1.53,"k":1.4},
      {"t":108,"m":2.3,"r":1.15,"g":1.45,"k":1.05},{"t":109,"m":1.8,"r":0.95,"g":1.43,"k":1.0},
      {"t":110,"m":1.3,"r":1.2,"g":1.5,"k":1.35},{"t":111,"m":1.05,"r":1.7,"g":1.58,"k":1.8},
      {"t":112,"m":1.1,"r":2.0,"g":1.6,"k":1.93},{"t":113,"m":1.5,"r":1.85,"g":1.55,"k":1.7},
      {"t":114,"m":2.0,"r":1.4,"g":1.48,"k":1.25},{"t":115,"m":2.15,"r":1.0,"g":1.45,"k":1.0},
      {"t":116,"m":2.15,"r":1.0,"g":1.48,"k":1.1},{"t":117,"m":1.8,"r":1.4,"g":1.55,"k":1.5},
      {"t":118,"m":1.3,"r":1.85,"g":1.58,"k":1.85},{"t":119,"m":1.0,"r":1.9,"g":1.55,"k":1.85},
      {"t":120,"m":0.8,"r":1.7,"g":1.5,"k":1.6}
    ]
  },
  "hconcat": [
    {
      "width": 519, "height": 930,
      "view": {"stroke": "#000", "strokeWidth": 2, "strokeDash": [1449, 519, 930, 0]},
      "title": {"text": "[A] a₁≠ 0, d₁≠ 0", "dx": 14},
      "resolve": {"scale": {"y": "independent"}, "axis": {"x": "independent", "y": "independent"}},
      "layer": [
        {
          "data": {"name": "A1"},
          "resolve": {"axis": {"x": "independent", "y": "independent"}},
          "layer": [
            {
              "transform": [{"fold": ["m", "r", "g"], "as": ["series", "value"]}],
              "mark": "line",
              "encoding": {
                "x": {"field": "t", "type": "quantitative", "scale": {"domain": [0, 120], "range": [70, 476], "nice": false},
                      "axis": {"orient": "bottom", "offset": -693, "values": [0, 30, 60, 90, 120], "grid": true, "labelPadding": 9, "title": null}},
                "y": {"field": "value", "type": "quantitative", "scale": {"domain": [0, 200], "range": [237, 59.5], "nice": false},
                      "axis": {"orient": "left", "offset": -70, "values": [0, 100, 200], "grid": true, "labelPadding": 8, "title": null}},
                "color": {"field": "series", "type": "nominal", "legend": null,
                          "scale": {"domain": ["m", "r", "g"], "range": ["#f01ef0", "#e21a1a", "#2fe02f"]}}
              }
            },
            {
              "mark": {"type": "line", "color": "#000"},
              "encoding": {
                "x": {"field": "t", "type": "quantitative", "scale": {"domain": [0, 120], "range": [70, 476], "nice": false},
                      "axis": {"orient": "top", "offset": -59.5, "labels": false, "grid": false, "title": "Number of DSB",
                               "titleX": 273, "titleY": -25.8, "titleBaseline": "alphabetic", "titleAlign": "center", "titleFontSize": 34}},
                "y": {"field": "k", "type": "quantitative", "scale": {"domain": [0, 200], "range": [237, 59.5], "nice": false},
                      "axis": {"orient": "right", "offset": -43, "labels": false, "grid": false, "title": null}}
              }
            }
          ]
        },
        {
          "data": {"name": "A2"},
          "resolve": {"axis": {"x": "independent", "y": "independent"}},
          "layer": [
            {
              "transform": [{"fold": ["m", "r", "g"], "as": ["series", "value"]}],
              "mark": "line",
              "encoding": {
                "x": {"field": "t", "type": "quantitative", "scale": {"domain": [0, 120], "range": [70, 476], "nice": false},
                      "axis": {"orient": "bottom", "offset": -389.5, "values": [0, 30, 60, 90, 120], "grid": true, "labelPadding": 9, "title": null}},
                "y": {"field": "value", "type": "quantitative", "scale": {"domain": [0, 5], "range": [540.5, 364], "nice": false},
                      "axis": {"orient": "left", "offset": -70, "values": [0, 5], "grid": false, "labelPadding": 8,
                               "title": "x 10⁵", "titleAngle": 0, "titleX": 0, "titleY": 353.7, "titleAlign": "left", "titleBaseline": "alphabetic", "titleFontSize": 23}},
                "color": {"field": "series", "type": "nominal", "legend": null,
                          "scale": {"domain": ["m", "r", "g"], "range": ["#f01ef0", "#e21a1a", "#2fe02f"]}}
              }
            },
            {
              "mark": {"type": "line", "color": "#000"},
              "encoding": {
                "x": {"field": "t", "type": "quantitative", "scale": {"domain": [0, 120], "range": [70, 476], "nice": false},
                      "axis": {"orient": "top", "offset": -364, "labels": false, "grid": false, "title": "P53ₙ+P53ₚₙ",
                               "titleX": 273, "titleY": -40, "titleBaseline": "alphabetic", "titleAlign": "center", "titleFontSize": 34}},
                "y": {"field": "k", "type": "quantitative", "scale": {"domain": [0, 5], "range": [540.5, 364], "nice": false},
                      "axis": {"orient": "right", "offset": -43, "labels": false, "grid": false, "title": null}}
              }
            }
          ]
        },
        {
          "data": {"name": "A3"},
          "resolve": {"axis": {"x": "independent", "y": "independent"}},
          "layer": [
            {
              "transform": [{"fold": ["m", "r", "g"], "as": ["series", "value"]}],
              "mark": "line",
              "encoding": {
                "x": {"field": "t", "type": "quantitative", "scale": {"domain": [0, 120], "range": [70, 476], "nice": false},
                      "axis": {"orient": "bottom", "offset": -85.3, "values": [0, 30, 60, 90, 120], "grid": true, "labelPadding": 9,
                               "title": "Time in hours", "titleX": 273, "titleY": 62, "titleBaseline": "alphabetic", "titleAlign": "center", "titleFontSize": 29}},
                "y": {"field": "value", "type": "quantitative", "scale": {"domain": [0, 5], "range": [844.7, 668], "nice": false},
                      "axis": {"orient": "left", "offset": -70, "values": [0, 5], "grid": false, "labelPadding": 8,
                               "title": "x 10⁵", "titleAngle": 0, "titleX": 0, "titleY": 658, "titleAlign": "left", "titleBaseline": "alphabetic", "titleFontSize": 23}},
                "color": {"field": "series", "type": "nominal", "legend": null,
                          "scale": {"domain": ["m", "r", "g"], "range": ["#f01ef0", "#e21a1a", "#2fe02f"]}}
              }
            },
            {
              "mark": {"type": "line", "color": "#000"},
              "encoding": {
                "x": {"field": "t", "type": "quantitative", "scale": {"domain": [0, 120], "range": [70, 476], "nice": false},
                      "axis": {"orient": "top", "offset": -668, "labels": false, "grid": false, "title": "MDM2ₚₙ",
                               "titleX": 273, "titleY": -40, "titleBaseline": "alphabetic", "titleAlign": "center", "titleFontSize": 34}},
                "y": {"field": "k", "type": "quantitative", "scale": {"domain": [0, 5], "range": [844.7, 668], "nice": false},
                      "axis": {"orient": "right", "offset": -43, "labels": false, "grid": false, "title": null}}
              }
            }
          ]
        }
      ]
    },
    {
      "width": 519, "height": 930,
      "view": {"stroke": "#000", "strokeWidth": 2, "strokeDash": [1449, 519, 930, 0]},
      "title": {"text": "[B] a₁≠ 0, d₁=0", "dx": 15},
      "resolve": {"scale": {"y": "independent"}, "axis": {"x": "independent", "y": "independent"}},
      "layer": [
        {
          "data": {"name": "B1"},
          "resolve": {"axis": {"x": "independent", "y": "independent"}},
          "layer": [
            {
              "transform": [{"fold": ["m", "r", "g"], "as": ["series", "value"]}],
              "mark": "line",
              "encoding": {
                "x": {"field": "t", "type": "quantitative", "scale": {"domain": [0, 120], "range": [72, 478], "nice": false},
                      "axis": {"orient": "bottom", "offset": -693, "values": [0, 30, 60, 90, 120], "grid": true, "labelPadding": 9, "title": null}},
                "y": {"field": "value", "type": "quantitative", "scale": {"domain": [0, 200], "range": [237, 59.5], "nice": false},
                      "axis": {"orient": "left", "offset": -72, "values": [0, 100, 200], "grid": true, "labelPadding": 8, "title": null}},
                "color": {"field": "series", "type": "nominal", "legend": null,
                          "scale": {"domain": ["m", "r", "g"], "range": ["#f01ef0", "#e21a1a", "#2fe02f"]}}
              }
            },
            {
              "mark": {"type": "line", "color": "#000"},
              "encoding": {
                "x": {"field": "t", "type": "quantitative", "scale": {"domain": [0, 120], "range": [72, 478], "nice": false},
                      "axis": {"orient": "top", "offset": -59.5, "labels": false, "grid": false, "title": "Number of DSB",
                               "titleX": 275, "titleY": -25.8, "titleBaseline": "alphabetic", "titleAlign": "center", "titleFontSize": 34}},
                "y": {"field": "k", "type": "quantitative", "scale": {"domain": [0, 200], "range": [237, 59.5], "nice": false},
                      "axis": {"orient": "right", "offset": -41, "labels": false, "grid": false, "title": null}}
              }
            }
          ]
        },
        {
          "data": {"name": "B2"},
          "resolve": {"axis": {"x": "independent", "y": "independent"}},
          "layer": [
            {
              "transform": [{"fold": ["m", "r", "g"], "as": ["series", "value"]}],
              "mark": "line",
              "encoding": {
                "x": {"field": "t", "type": "quantitative", "scale": {"domain": [0, 120], "range": [72, 478], "nice": false},
                      "axis": {"orient": "bottom", "offset": -389.5, "values": [0, 30, 60, 90, 120], "grid": true, "labelPadding": 9, "title": null}},
                "y": {"field": "value", "type": "quantitative", "scale": {"domain": [0, 5], "range": [540.5, 364], "nice": false},
                      "axis": {"orient": "left", "offset": -72, "values": [0, 5], "grid": false, "labelPadding": 8,
                               "title": "x 10⁵", "titleAngle": 0, "titleX": 0, "titleY": 353.7, "titleAlign": "left", "titleBaseline": "alphabetic", "titleFontSize": 23}},
                "color": {"field": "series", "type": "nominal", "legend": null,
                          "scale": {"domain": ["m", "r", "g"], "range": ["#f01ef0", "#e21a1a", "#2fe02f"]}}
              }
            },
            {
              "mark": {"type": "line", "color": "#000"},
              "encoding": {
                "x": {"field": "t", "type": "quantitative", "scale": {"domain": [0, 120], "range": [72, 478], "nice": false},
                      "axis": {"orient": "top", "offset": -364, "labels": false, "grid": false, "title": "P53ₙ+P53ₚₙ",
                               "titleX": 275, "titleY": -40, "titleBaseline": "alphabetic", "titleAlign": "center", "titleFontSize": 34}},
                "y": {"field": "k", "type": "quantitative", "scale": {"domain": [0, 5], "range": [540.5, 364], "nice": false},
                      "axis": {"orient": "right", "offset": -41, "labels": false, "grid": false, "title": null}}
              }
            }
          ]
        },
        {
          "data": {"name": "B3"},
          "resolve": {"axis": {"x": "independent", "y": "independent"}},
          "layer": [
            {
              "transform": [{"fold": ["m", "r", "g"], "as": ["series", "value"]}],
              "mark": "line",
              "encoding": {
                "x": {"field": "t", "type": "quantitative", "scale": {"domain": [0, 120], "range": [72, 478], "nice": false},
                      "axis": {"orient": "bottom", "offset": -85.3, "values": [0, 30, 60, 90, 120], "grid": true, "labelPadding": 9,
                               "title": "Time in hours", "titleX": 275, "titleY": 62, "titleBaseline": "alphabetic", "titleAlign": "center", "titleFontSize": 29}},
                "y": {"field": "value", "type": "quantitative", "scale": {"domain": [0, 5], "range": [844.7, 668], "nice": false},
                      "axis": {"orient": "left", "offset": -72, "values": [0, 5], "grid": false, "labelPadding": 8,
                               "title": "x 10⁵", "titleAngle": 0, "titleX": 0, "titleY": 658, "titleAlign": "left", "titleBaseline": "alphabetic", "titleFontSize": 23}},
                "color": {"field": "series", "type": "nominal", "legend": null,
                          "scale": {"domain": ["m", "r", "g"], "range": ["#f01ef0", "#e21a1a", "#2fe02f"]}}
              }
            },
            {
              "mark": {"type": "line", "color": "#000"},
              "encoding": {
                "x": {"field": "t", "type": "quantitative", "scale": {"domain": [0, 120], "range": [72, 478], "nice": false},
                      "axis": {"orient": "top", "offset": -668, "labels": false, "grid": false, "title": "MDM2ₚₙ",
                               "titleX": 275, "titleY": -40, "titleBaseline": "alphabetic", "titleAlign": "center", "titleFontSize": 34}},
                "y": {"field": "k", "type": "quantitative", "scale": {"domain": [0, 5], "range": [844.7, 668], "nice": false},
                      "axis": {"orient": "right", "offset": -41, "labels": false, "grid": false, "title": null}}
              }
            }
          ]
        }
      ]
    },
    {
      "width": 510, "height": 930,
      "view": {"stroke": "#000", "strokeWidth": 2, "strokeDash": [510, 1440, 930, 0]},
      "title": {"text": "[C] a₁=0, d₁≠ 0", "dx": 17},
      "resolve": {"scale": {"y": "independent"}, "axis": {"x": "independent", "y": "independent"}},
      "layer": [
        {
          "data": {"name": "C1"},
          "resolve": {"axis": {"x": "independent", "y": "independent"}},
          "layer": [
            {
              "transform": [{"fold": ["m", "r", "g"], "as": ["series", "value"]}],
              "mark": "line",
              "encoding": {
                "x": {"field": "t", "type": "quantitative", "scale": {"domain": [0, 120], "range": [74, 480], "nice": false},
                      "axis": {"orient": "bottom", "offset": -693, "values": [0, 30, 60, 90, 120], "grid": true, "labelPadding": 9, "title": null}},
                "y": {"field": "value", "type": "quantitative", "scale": {"domain": [0, 200], "range": [237, 59.5], "nice": false},
                      "axis": {"orient": "left", "offset": -74, "values": [0, 100, 200], "grid": true, "labelPadding": 8, "title": null}},
                "color": {"field": "series", "type": "nominal", "legend": null,
                          "scale": {"domain": ["m", "r", "g"], "range": ["#f01ef0", "#e21a1a", "#2fe02f"]}}
              }
            },
            {
              "mark": {"type": "line", "color": "#000"},
              "encoding": {
                "x": {"field": "t", "type": "quantitative", "scale": {"domain": [0, 120], "range": [74, 480], "nice": false},
                      "axis": {"orient": "top", "offset": -59.5, "labels": false, "grid": false, "title": "Number of DSB",
                               "titleX": 277, "titleY": -25.8, "titleBaseline": "alphabetic", "titleAlign": "center", "titleFontSize": 34}},
                "y": {"field": "k", "type": "quantitative", "scale": {"domain": [0, 200], "range": [237, 59.5], "nice": false},
                      "axis": {"orient": "right", "offset": -30, "labels": false, "grid": false, "title": null}}
              }
            }
          ]
        },
        {
          "data": {"name": "C2"},
          "resolve": {"axis": {"x": "independent", "y": "independent"}},
          "layer": [
            {
              "transform": [{"fold": ["m", "r", "g"], "as": ["series", "value"]}],
              "mark": "line",
              "encoding": {
                "x": {"field": "t", "type": "quantitative", "scale": {"domain": [0, 120], "range": [74, 480], "nice": false},
                      "axis": {"orient": "bottom", "offset": -389.5, "values": [0, 30, 60, 90, 120], "grid": true, "labelPadding": 9, "title": null}},
                "y": {"field": "value", "type": "quantitative", "scale": {"domain": [0, 5], "range": [540.5, 364], "nice": false},
                      "axis": {"orient": "left", "offset": -74, "values": [0, 5], "grid": false, "labelPadding": 8,
                               "title": "x 10⁵", "titleAngle": 0, "titleX": 0, "titleY": 353.7, "titleAlign": "left", "titleBaseline": "alphabetic", "titleFontSize": 23}},
                "color": {"field": "series", "type": "nominal", "legend": null,
                          "scale": {"domain": ["m", "r", "g"], "range": ["#f01ef0", "#e21a1a", "#2fe02f"]}}
              }
            },
            {
              "mark": {"type": "line", "color": "#000"},
              "encoding": {
                "x": {"field": "t", "type": "quantitative", "scale": {"domain": [0, 120], "range": [74, 480], "nice": false},
                      "axis": {"orient": "top", "offset": -364, "labels": false, "grid": false, "title": "P53ₙ+P53ₚₙ",
                               "titleX": 277, "titleY": -40, "titleBaseline": "alphabetic", "titleAlign": "center", "titleFontSize": 34}},
                "y": {"field": "k", "type": "quantitative", "scale": {"domain": [0, 5], "range": [540.5, 364], "nice": false},
                      "axis": {"orient": "right", "offset": -30, "labels": false, "grid": false, "title": null}}
              }
            }
          ]
        },
        {
          "data": {"name": "C3"},
          "resolve": {"axis": {"x": "independent", "y": "independent"}},
          "layer": [
            {
              "transform": [{"fold": ["m", "r", "g"], "as": ["series", "value"]}],
              "mark": "line",
              "encoding": {
                "x": {"field": "t", "type": "quantitative", "scale": {"domain": [0, 120], "range": [74, 480], "nice": false},
                      "axis": {"orient": "bottom", "offset": -85.3, "values": [0, 30, 60, 90, 120], "grid": true, "labelPadding": 9,
                               "title": "Time in hours", "titleX": 277, "titleY": 62, "titleBaseline": "alphabetic", "titleAlign": "center", "titleFontSize": 29}},
                "y": {"field": "value", "type": "quantitative", "scale": {"domain": [0, 5], "range": [844.7, 668], "nice": false},
                      "axis": {"orient": "left", "offset": -74, "values": [0, 5], "grid": false, "labelPadding": 8,
                               "title": "x 10⁵", "titleAngle": 0, "titleX": 0, "titleY": 658, "titleAlign": "left", "titleBaseline": "alphabetic", "titleFontSize": 23}},
                "color": {"field": "series", "type": "nominal", "legend": null,
                          "scale": {"domain": ["m", "r", "g"], "range": ["#f01ef0", "#e21a1a", "#2fe02f"]}}
              }
            },
            {
              "mark": {"type": "line", "color": "#000"},
              "encoding": {
                "x": {"field": "t", "type": "quantitative", "scale": {"domain": [0, 120], "range": [74, 480], "nice": false},
                      "axis": {"orient": "top", "offset": -668, "labels": false, "grid": false, "title": "MDM2ₚₙ",
                               "titleX": 277, "titleY": -40, "titleBaseline": "alphabetic", "titleAlign": "center", "titleFontSize": 34}},
                "y": {"field": "k", "type": "quantitative", "scale": {"domain": [0, 5], "range": [844.7, 668], "nice": false},
                      "axis": {"orient": "right", "offset": -30, "labels": false, "grid": false, "title": null}}
              }
            }
          ]
        }
      ]
    }
  ]
}
